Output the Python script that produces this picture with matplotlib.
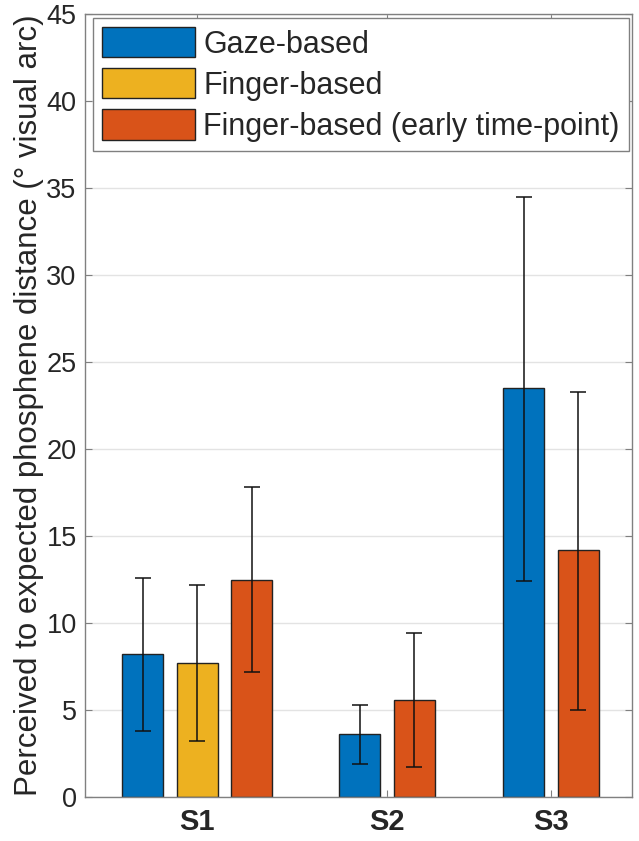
import matplotlib.pyplot as plt
import numpy as np

plt.rcParams['font.family'] = ['Liberation Sans', 'DejaVu Sans']

# -------- Data
subjects = ['S1', 'S2', 'S3']
group_pos = [1.0, 2.0, 2.863]
series_names = ['Gaze-based', 'Finger-based', 'Finger-based (early time-point)']
colors = ['#0072BD', '#EDB120', '#D95319']

gaze_mean = [8.2, 3.6, 23.5]
gaze_lo = [3.8, 1.9, 12.4]
gaze_hi = [12.6, 5.3, 34.5]

finger_mean = [7.7, np.nan, np.nan]
finger_lo = [3.2, np.nan, np.nan]
finger_hi = [12.2, np.nan, np.nan]

early_mean = [12.5, 5.6, 14.2]
early_lo = [7.2, 1.7, 5.0]
early_hi = [17.8, 9.4, 23.3]

means = [gaze_mean, finger_mean, early_mean]
lows = [gaze_lo, finger_lo, early_lo]
highs = [gaze_hi, finger_hi, early_hi]

bar_w = 0.216
step = 0.287

fig = plt.figure(figsize=(6.39, 8.41), dpi=100)
ax = fig.add_axes([0.133, 0.0523, 0.856, 0.9311])

for i, name in enumerate(series_names):
    xs, ys, lo, hi = [], [], [], []
    for g in range(len(subjects)):
        if np.isnan(means[i][g]):
            continue
        # bars present in this group are packed around the group centre
        present = [k for k in range(3) if not np.isnan(means[k][g])]
        slot = present.index(i) - (len(present) - 1) / 2
        xs.append(group_pos[g] + slot * step)
        ys.append(means[i][g])
        lo.append(means[i][g] - lows[i][g])
        hi.append(highs[i][g] - means[i][g])
    ax.bar(xs, ys, width=bar_w, color=colors[i], edgecolor='#222222',
           linewidth=1.0, label=name, zorder=2)
    ax.errorbar(xs, ys, yerr=[lo, hi], fmt='none', ecolor='#111111',
                elinewidth=1.1, capsize=6, capthick=1.1, zorder=3)

ax.set_xlim(0.41, 3.289)
ax.set_ylim(0, 45)
ax.set_yticks(np.arange(0, 46, 5))
ax.set_xticks(group_pos)
ax.set_xticklabels(subjects, fontweight='bold', fontsize=21)
ax.yaxis.grid(True, color='#e3e3e3', linewidth=1.0, zorder=0)
ax.set_axisbelow(True)

for s in ax.spines.values():
    s.set_color('#808080')
    s.set_linewidth(1.0)
ax.tick_params(axis='both', direction='in', color='#808080', labelsize=19.5,
               labelcolor='#262626', top=True, right=True, length=5)
ax.tick_params(axis='x', pad=8, labelsize=21)
ax.tick_params(axis='y', pad=6)

ax.set_ylabel('Perceived to expected phosphene distance (\u00b0 visual arc)',
              fontsize=22.5, color='#262626', labelpad=2)

leg = ax.legend(loc='upper left', bbox_to_anchor=(0.0146, 0.995), borderaxespad=0,
                fontsize=22, handlelength=3.05, handleheight=1.15, labelspacing=0.28,
                handletextpad=0.26, borderpad=0.3, fancybox=False, framealpha=1,
                edgecolor='#808080')
leg.get_frame().set_linewidth(1.0)
for t in leg.get_texts():
    t.set_color('#262626')

fig.savefig('out.png', dpi=100)
